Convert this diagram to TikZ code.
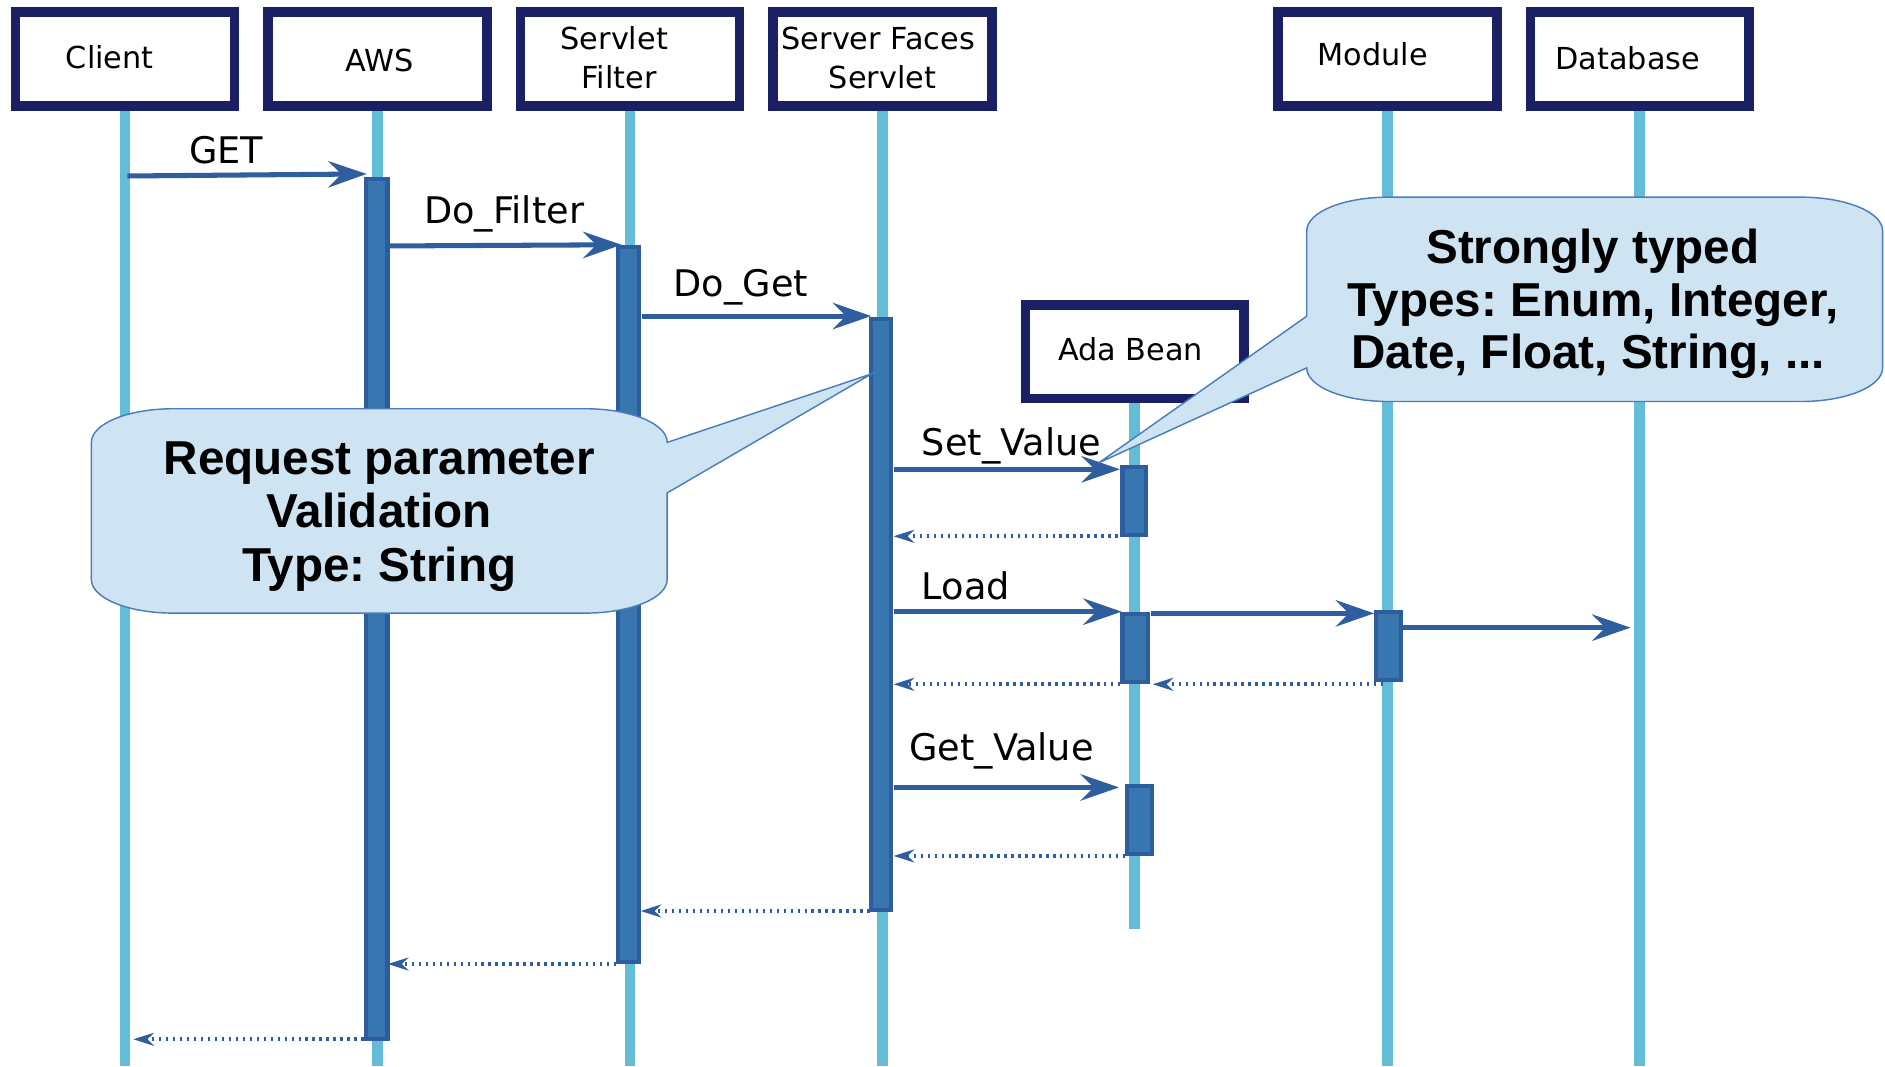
\documentclass[tikz,border=0pt]{standalone}
\usepackage{fontspec}
\setmainfont{DejaVu Sans}
\newfontfamily\notefont{Liberation Sans}
\usetikzlibrary{arrows.meta,fit,backgrounds}
\frenchspacing

\definecolor{navy}{RGB}{27,31,99}
\definecolor{lifeblue}{RGB}{99,189,214}
\definecolor{barfill}{RGB}{55,118,174}
\definecolor{barline}{RGB}{45,93,159}
\definecolor{msgblue}{RGB}{46,94,158}
\definecolor{notefill}{RGB}{207,228,243}
\definecolor{noteline}{RGB}{74,125,187}

\begin{document}
\begin{tikzpicture}[x=0.5pt,y=-0.5pt,
  lifeline/.style={draw=lifeblue, line width=4.5pt},
  headbox/.style={draw=navy, line width=4pt, fill=white, minimum width=91pt, minimum height=39pt, inner sep=0pt},
  headlabel/.style={font=\fontsize{12.6pt}{15pt}\selectfont, anchor=base, inner sep=0pt},
  actbar/.style={draw=barline, fill=barfill, line width=1.7pt, inner sep=0pt},
  msg/.style={draw=msgblue, line width=2.1pt, -{Stealth[length=16pt,width=11pt,inset=5.5pt]}},
  reply/.style={draw=msgblue, line width=1.5pt, dash pattern=on 1pt off 1.9pt, -{Stealth[length=8.6pt,width=5.4pt,inset=2.8pt]}},
  msglabel/.style={font=\fontsize{15.25pt}{18pt}\selectfont, anchor=base west, inner sep=0pt},
  note/.style={draw=noteline, fill=notefill, line width=0.6pt},
  notetext/.style={font=\notefont\bfseries\fontsize{19.8pt}{23pt}\selectfont, anchor=base, inner sep=0pt},
]
\useasboundingbox (0,0) rectangle (1568,887);
\coordinate (bottom) at (0,887);
\coordinate (beanend) at (0,773);

% participant boxes
\node[headbox] (client) at (104,49) {};
\node[headbox] (aws)    at (314,49) {};
\node[headbox] (filter) at (524,49) {};
\node[headbox] (faces)  at (734,49) {};
\node[headbox] (module) at (1154,49) {};
\node[headbox] (db)     at (1364,49) {};
\node[headbox] (bean)   at (944,292.5) {};

% lifelines behind the boxes
\begin{scope}[on background layer]
  \draw[lifeline] (client.south) -- (client.south |- bottom);
  \draw[lifeline] (aws.south)    -- (aws.south |- bottom);
  \draw[lifeline] (filter.south) -- (filter.south |- bottom);
  \draw[lifeline] (faces.south)  -- (faces.south |- bottom);
  \draw[lifeline] (module.south) -- (module.south |- bottom);
  \draw[lifeline] (db.south)     -- (db.south |- bottom);
  \draw[lifeline] (bean.south)   -- (bean.south |- beanend);
\end{scope}

% activation bars
\node[actbar, fit={(304.7,148.7) (322.3,864.3)}] (awsbar) {};
\node[actbar, fit={(514.4,205.7) (531.9,800.3)}] (filterbar) {};
\node[actbar, fit={(724.7,265.7) (741.3,757.3)}] (facesbar) {};
\node[actbar, fit={(933.7,388.7) (953.3,445.3)}] (beanbarA) {};
\node[actbar, fit={(933.7,510.7) (955.3,567.3)}] (beanbarB) {};
\node[actbar, fit={(1144.7,508.7) (1165.3,565.3)}] (modbar) {};
\node[actbar, fit={(937.7,653.7) (958.3,710.3)}] (beanbarC) {};

% message end points
\coordinate (getS) at (106,146.4);     \coordinate (getE) at (305,144.7);
\coordinate (filS) at (324,204.6);     \coordinate (filE) at (517,203.6);
\coordinate (dogS) at (533.8,262.9);   \coordinate (dogE) at (724.7,262.9);
\coordinate (setS) at (743.3,390.4);   \coordinate (setE) at (931.6,390.4);
\coordinate (loadS) at (743.3,508.8);  \coordinate (loadE) at (933,508.8);
\coordinate (modS) at (957.4,510.2);   \coordinate (modE) at (1143,510.2);
\coordinate (dbS) at (1167,522.1);     \coordinate (dbE) at (1356.3,522.1);
\coordinate (gvS) at (743.3,655);      \coordinate (gvE) at (930.8,655);

\coordinate (r1S) at (929.7,446.1);    \coordinate (r1E) at (743.3,446.1);
\coordinate (r2S) at (932,569.2);      \coordinate (r2E) at (743.3,569.2);
\coordinate (r3S) at (1150.6,569.2);   \coordinate (r3E) at (958.8,569.2);
\coordinate (r4S) at (936,712);        \coordinate (r4E) at (743.3,712);
\coordinate (r5S) at (723.4,757.8);    \coordinate (r5E) at (532.9,757.8);
\coordinate (r6S) at (512.7,801.9);    \coordinate (r6E) at (322.6,801.9);
\coordinate (r7S) at (302.5,864.5);    \coordinate (r7E) at (110.9,864.5);

% calls
\draw[msg] (getS) -- (getE);
\draw[msg] (filS) -- (filE);
\draw[msg] (dogS) -- (dogE);
\draw[msg] (setS) -- (setE);
\draw[msg] (loadS) -- (loadE);
\draw[msg] (modS) -- (modE);
\draw[msg] (dbS) -- (dbE);
\draw[msg] (gvS) -- (gvE);

% returns
\draw[reply] (r1S) -- (r1E);
\draw[reply] (r2S) -- (r2E);
\draw[reply] (r3S) -- (r3E);
\draw[reply] (r4S) -- (r4E);
\draw[reply] (r5S) -- (r5E);
\draw[reply] (r6S) -- (r6E);
\draw[reply] (r7S) -- (r7E);

% callout: request parameter validation
\path[note] (144,340) -- (487,340)
  .. controls (524.6,340) and (555,352.5) .. (555,368)
  -- (725,311) -- (555,410) -- (555,482)
  .. controls (555,497.5) and (524.6,510) .. (487,510)
  -- (144,510)
  .. controls (106.4,510) and (76,497.5) .. (76,482)
  -- (76,368)
  .. controls (76,352.5) and (106.4,340) .. (144,340) -- cycle;

% callout: strongly typed beans
\path[note] (1155,164) -- (1498,164)
  .. controls (1535.6,164) and (1566,176.5) .. (1566,192)
  -- (1566,306)
  .. controls (1566,321.5) and (1535.6,334) .. (1498,334)
  -- (1155,334)
  .. controls (1117.4,334) and (1087,321.5) .. (1087,306)
  -- (914,385) -- (1087,263) -- (1087,192)
  .. controls (1087,176.5) and (1117.4,164) .. (1155,164) -- cycle;

% participant names
\node[headlabel] (tClient) at (91.3,56.8) {Client};
\node[headlabel] (tAws) at (316,59.6) {AWS};
\node[headlabel] (tFilterA) at (511,41) {Servlet};
\node[headlabel] (tFilterB) at (515,73.5) {Filter};
\node[headlabel] (tFacesA) at (730.6,41) {Server Faces};
\node[headlabel] (tFacesB) at (734,73.5) {Servlet};
\node[headlabel] (tModule) at (1142,54.6) {Module};
\node[headlabel] (tDb) at (1354,58.2) {Database};
\node[headlabel] (tBean) at (940.5,299.5) {Ada Bean};

% message labels
\node[msglabel] (lGet) at (157,135.9) {GET};
\node[msglabel] (lFilter) at (352.5,185.8) {Do\_Filter};
\node[msglabel] (lDoGet) at (560,246.8) {Do\_Get};
\node[msglabel] (lSet) at (766.5,378.5) {Set\_Value};
\node[msglabel] (lLoad) at (766.5,499) {Load};
\node[msglabel] (lGetV) at (756,632.2) {Get\_Value};

% callout texts
\node[notetext] (nA1) at (315.5,394.6) {Request parameter};
\node[notetext] (nA2) at (315.5,439) {Validation};
\node[notetext] (nA3) at (315.5,484) {Type: String};
\node[notetext] (nB1) at (1325,219) {Strongly typed};
\node[notetext] (nB2) at (1325,263.4) {Types: Enum, Integer,};
\node[notetext] (nB3) at (1321,306.4) {Date, Float, String, ...};
\end{tikzpicture}
\end{document}
